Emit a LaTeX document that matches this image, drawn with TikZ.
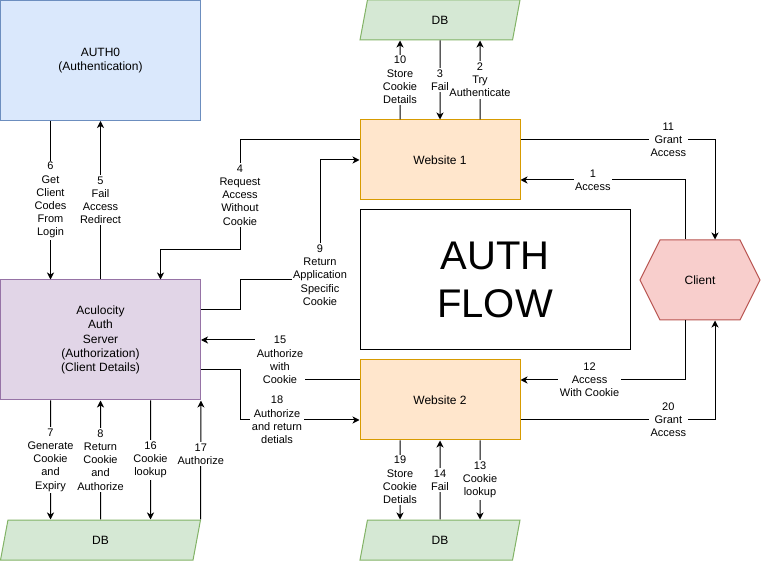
\documentclass[tikz,border=0pt]{standalone}
\usepackage{fontspec}
\setmainfont{Liberation Sans}
\usetikzlibrary{shapes,shapes.geometric,shapes.symbols,arrows.meta,calc,positioning}

\definecolor{authfill}{HTML}{DAE8FC}
\definecolor{authline}{HTML}{6C8EBF}
\definecolor{srvfill}{HTML}{E1D5E7}
\definecolor{srvline}{HTML}{9673A6}
\definecolor{webfill}{HTML}{FFE6CC}
\definecolor{webline}{HTML}{D79B00}
\definecolor{dbfill}{HTML}{D5E8D4}
\definecolor{dbline}{HTML}{82B366}
\definecolor{clifill}{HTML}{F8CECC}
\definecolor{cliline}{HTML}{B85450}

\tikzset{
  boxtext/.style={align=center, font=\fontsize{12}{14.4}\selectfont},
  bigbox/.style={boxtext, draw, minimum width=200pt, minimum height=120pt},
  website/.style={boxtext, draw=webline, fill=webfill, minimum width=160pt, minimum height=80pt},
  dbshape/.style={boxtext, draw=dbline, fill=dbfill, trapezium, trapezium left angle=63.43,
    trapezium right angle=116.57, trapezium stretches body, minimum height=40pt},
  clientshape/.style={boxtext, draw=cliline, fill=clifill, signal, signal to=west and east,
    signal pointer angle=126.87, minimum width=120pt, minimum height=80pt},
  lbl/.style={fill=white, align=center, inner sep=1.5pt, font=\fontsize{11}{13.2}\selectfont},
  arr/.style={-{Stealth[length=7pt,width=7pt,inset=2pt]}},
}

\begin{document}
\begin{tikzpicture}[x=1pt, y=-1pt, line width=1pt]
\useasboundingbox (0,0) rectangle (761,561);

% boxes
\node[bigbox, draw=authline, fill=authfill] (auth0) at (100.5,60.5) {AUTH0\\(Authentication)};
\node[bigbox, draw=srvline, fill=srvfill] (srv) at (100.5,340) {Aculocity\\Auth\\Server\\(Authorization)\\(Client Details)};
\node[website] (web1) at (440,160) {Website 1};
\node[website] (web2) at (440,400) {Website 2};
\node[draw, minimum width=270pt, minimum height=140pt, align=center,
  font=\fontsize{40}{48}\selectfont] (flow) at (495,280) {AUTH\\FLOW};
\node[clientshape] (client) at (700,280) {Client};
\node[dbshape, minimum width=160pt] (dbtop) at (440,20) {DB};
\node[dbshape, minimum width=160pt] (dbweb) at (440,540) {DB};
\node[dbshape, minimum width=200pt] (dbsrv) at (100.5,540) {DB};

% client <-> websites
\draw[arr] ($(client.north)+(-15,0)$) |- node[lbl, pos=0.78] {1\\Access} ($(web1.east)+(0,20)$);
\draw[arr] ($(web1.east)+(0,-20)$) -| node[lbl, pos=0.38] {11\\Grant\\Access} ($(client.north)+(15,0)$);
\draw[arr] ($(client.south)+(-15,0)$) |- node[lbl, pos=0.79] {12\\Access\\With Cookie} ($(web2.east)+(0,-20)$);
\draw[arr] ($(web2.east)+(0,20)$) -| node[lbl, pos=0.38] {20\\Grant\\Access} ($(client.south)+(15,0)$);

% website 1 <-> db
\draw[arr] ($(web1.north)+(40,0)$) -- node[lbl] {2\\Try\\Authenticate} ($(dbtop.south)+(40,0)$);
\draw[arr] (dbtop.south) -- node[lbl] {3\\Fail} (web1.north);
\draw[arr] ($(web1.north)+(-40,0)$) -- node[lbl] {10\\Store\\Cookie\\Details} ($(dbtop.south)+(-40,0)$);

% website 2 <-> db
\draw[arr] ($(web2.south)+(40,0)$) -- node[lbl] {13\\Cookie\\lookup} ($(dbweb.north)+(40,0)$);
\draw[arr] (dbweb.north) -- node[lbl] {14\\Fail} (web2.south);
\draw[arr] ($(web2.south)+(-40,0)$) -- node[lbl] {19\\Store\\Cookie\\Detials} ($(dbweb.north)+(-40,0)$);

% websites <-> auth server
\draw[arr] ($(web1.west)+(0,-20)$) -| node[lbl, pos=0.75] {4\\Request\\Access\\Without\\Cookie} (240,250)
  -| ($(srv.north)+(60,0)$);
\draw[arr] ($(srv.east)+(0,-30)$) -| (240,280) -| node[lbl, pos=0.52] {9\\Return\\Application\\Specific\\Cookie} (320,160)
  -- (web1.west);
\draw[arr] ($(web2.west)+(0,-20)$) -| node[lbl, pos=0.75] {15\\Authorize\\with\\Cookie} (280,340) -- (srv.east);
\draw[arr] ($(srv.east)+(0,30)$) -| (240,420) -- node[lbl, pos=0.31] {18\\Authorize\\and return\\detials} ($(web2.west)+(0,20)$);

% auth server <-> auth0
\draw[arr] (srv.north) -- node[lbl] {5\\Fail\\Access\\Redirect} (auth0.south);
\draw[arr] ($(auth0.south)+(-50,0)$) -- node[lbl] {6\\Get\\Client\\Codes\\From\\Login} ($(srv.north)+(-50,0)$);

% auth server <-> db
\draw[arr] ($(srv.south)+(-50,0)$) -- node[lbl] {7\\Generate\\Cookie\\and\\Expiry} ($(dbsrv.north)+(-50,0)$);
\draw[arr] (dbsrv.north) -- node[lbl] {8\\Return\\Cookie\\and\\Authorize} (srv.south);
\draw[arr] ($(srv.south)+(50,0)$) -- node[lbl] {16\\Cookie\\lookup} ($(dbsrv.north)+(50,0)$);
\draw[arr] ($(dbsrv.north)+(100,0)$) -- node[lbl, pos=0.55] {17\\Authorize} (srv.south east);
\end{tikzpicture}
\end{document}
